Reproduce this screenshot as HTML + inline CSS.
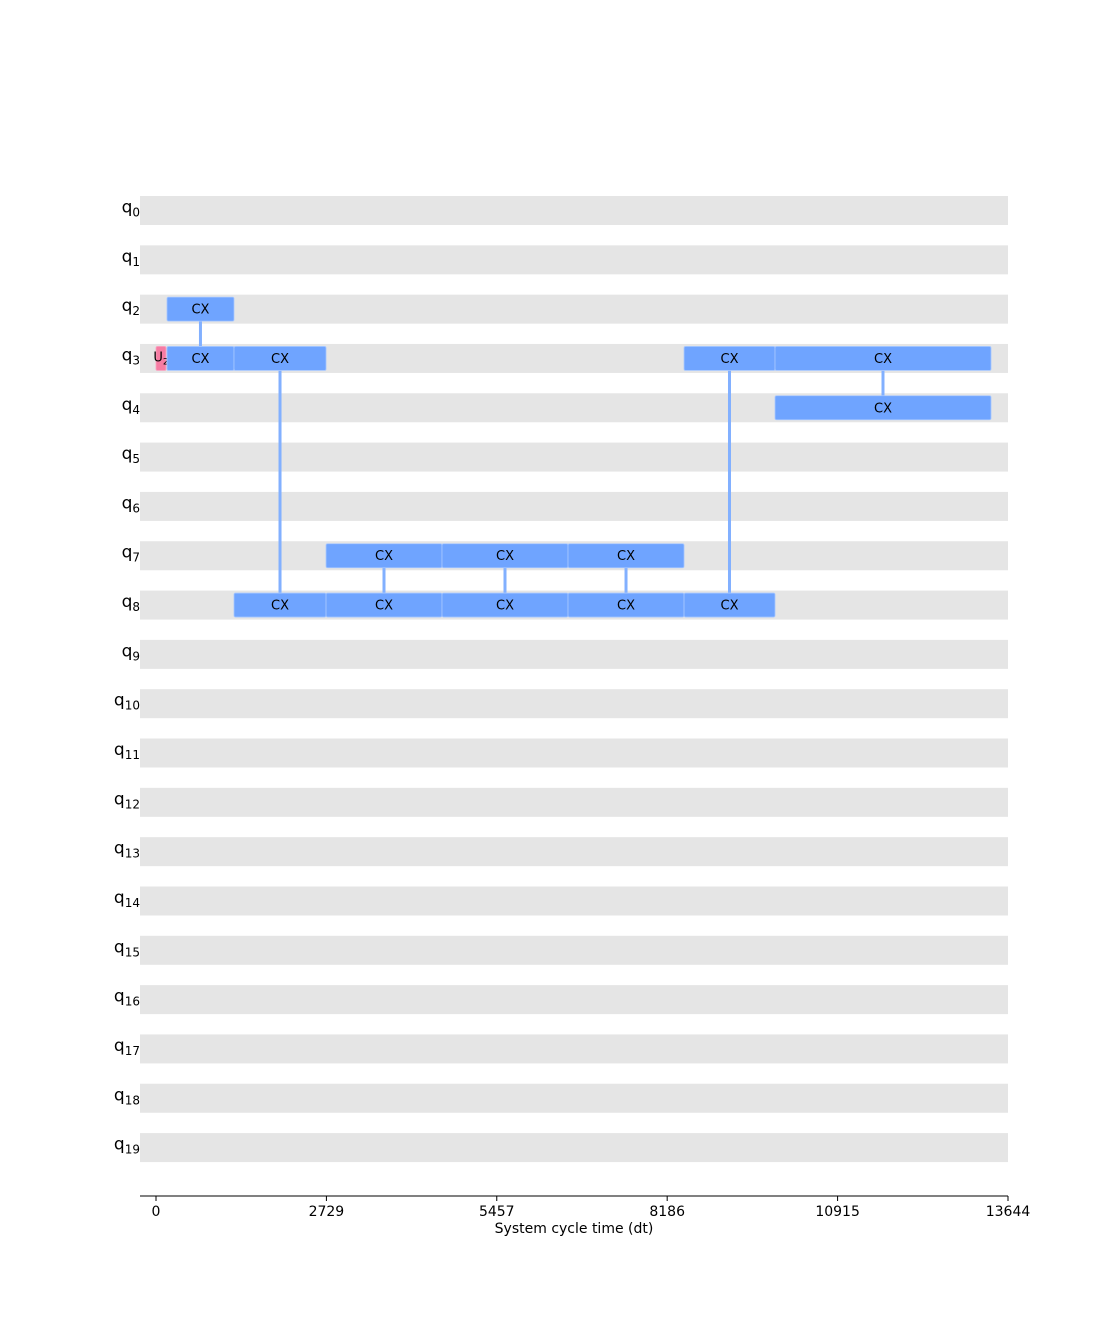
<!DOCTYPE html>
<html><head><meta charset="utf-8"><style>
body{margin:0;background:#fff}
svg{display:block;font-family:"DejaVu Sans","Liberation Sans",sans-serif}
</style></head><body>
<svg id="chart" width="1120" height="1344" viewBox="0 0 1120 1344" xmlns="http://www.w3.org/2000/svg"></svg>
<script>
const qubits=[0,1,2,3,4,5,6,7,8,9,10,11,12,13,14,15,16,17,18,19];
const tickValues=[0,2729,5457,8186,10915,13644];
const gateNames=["U","CX","CX","CX","CX","CX","CX","CX","CX","CX","CX","CX","CX","CX","CX"];
const gateQubits=[3,2,3,3,8,7,8,7,8,7,8,3,8,3,4];
const gateStarts=[0,176,176,1249,1249,2723,2723,4580,4580,6598,6598,8456,8456,9913,9913];
const gateEnds=[160,1249,1249,2723,2723,4580,4580,6598,6598,8456,8456,9913,9913,13372,13372];
const linkTimes=[712,1986,3651,5589,7527,9184,11642];
const linkFrom=[2,3,7,7,7,3,3];
const linkTo=[3,8,8,8,8,8,4];
const NS="http://www.w3.org/2000/svg";
const svg=document.getElementById('chart');
const x=t=>156+t*(852/13644);
const y=q=>210.5+q*49.32;
function el(tag,attrs,name,inter){const e=document.createElementNS(NS,tag);for(const k in attrs)e.setAttribute(k,attrs[k]);


svg.appendChild(e);return e;}
qubits.forEach(q=>{
  el('rect',{x:140,y:y(q)-14.5,width:868,height:29,fill:'#e5e5e5'},'qubit-band-q'+q,false);
  const t=el('text',{x:140,y:y(q)+2,'text-anchor':'end','font-size':17,fill:'#000'},'qubit-label-q'+q,false);
  t.textContent='q';
  const s=document.createElementNS(NS,'tspan');s.setAttribute('font-size',12);s.setAttribute('dy',4);s.textContent=q;t.appendChild(s);
});
linkTimes.forEach((t,i)=>{
  el('line',{x1:x(t),x2:x(t),y1:y(linkFrom[i])+12,y2:y(linkTo[i])-12,stroke:'#82b0ff','stroke-width':3},'link-'+i,false);
});
gateQubits.forEach((q,i)=>{
  const x0=x(gateStarts[i]),x1=x(gateEnds[i]);
  const isU=gateNames[i]==='U';
  el('rect',{x:x0,y:y(q)-12,width:x1-x0,height:24,fill:isU?'#f67ca3':'#6fa4ff',stroke:isU?'#f9a3c0':'#a8c8ff','stroke-width':0.8,rx:1.5},'gate-'+gateNames[i].toLowerCase()+'-'+i,true);
  if(isU){
    const t=el('text',{x:(x0+x1)/2,y:y(q)+3,'text-anchor':'middle','font-size':13,fill:'#000'},'gate-label-'+i,false);
    t.textContent='U';const s=document.createElementNS(NS,'tspan');s.setAttribute('font-size',9);s.setAttribute('dy',3);s.textContent='2';t.appendChild(s);
  } else {
    const t=el('text',{x:(x0+x1)/2,y:y(q)+4.5,'text-anchor':'middle','font-size':13,fill:'#000'},'gate-label-'+i,false);
    t.textContent='CX';
  }
});
el('line',{x1:140,x2:1008,y1:1196,y2:1196,stroke:'#000','stroke-width':1},'x-axis-line',false);
tickValues.forEach((v,i)=>{
  el('line',{x1:x(v),x2:x(v),y1:1196,y2:1201,stroke:'#000','stroke-width':1},'x-tick-'+i,false);
  const t=el('text',{x:x(v),y:1216,'text-anchor':'middle','font-size':14,fill:'#000'},'x-tick-label-'+i,false);
  t.textContent=v;
});
const xl=el('text',{x:574,y:1233,'text-anchor':'middle','font-size':14,fill:'#000'},'x-axis-title',false);
xl.textContent='System cycle time (dt)';
</script>
</body></html>
